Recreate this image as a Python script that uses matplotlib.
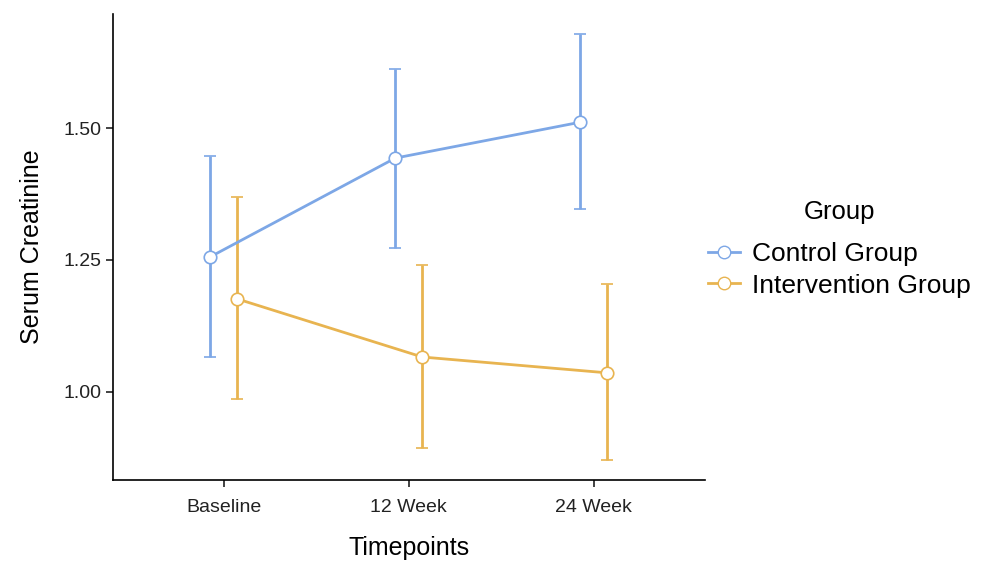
import numpy as np
import matplotlib.pyplot as plt
from matplotlib.lines import Line2D

plt.rcParams['font.family'] = ['Liberation Sans', 'DejaVu Sans']

timepoints = ['Baseline', '12 Week', '24 Week']
control_mean = [1.256, 1.443, 1.511]
control_lo = [1.066, 1.273, 1.347]
control_hi = [1.447, 1.612, 1.678]
interv_mean = [1.176, 1.066, 1.036]
interv_lo = [0.987, 0.894, 0.871]
interv_hi = [1.369, 1.241, 1.205]

blue = '#7DA7E6'
orange = '#E8B450'

fig = plt.figure(figsize=(9.86, 5.62), dpi=100)
ax = fig.add_axes([0.1146, 0.146, 0.600, 0.829])

x = np.arange(1, len(timepoints) + 1)
dodge = 0.073

for off, m, lo, hi, col in [(-dodge, control_mean, control_lo, control_hi, blue),
                            (dodge, interv_mean, interv_lo, interv_hi, orange)]:
    m = np.array(m)
    err = [m - np.array(lo), np.array(hi) - m]
    ax.errorbar(x + off, m, yerr=err, color=col, lw=2, capsize=4, capthick=2,
                marker='o', ms=9, mfc='white', mec=col, mew=1.2, zorder=3)

ax.set_xlim(0.4, 3.6)
ax.set_ylim(0.833, 1.716)
ax.set_xticks(x)
ax.set_xticklabels(timepoints)
ax.set_yticks([1.00, 1.25, 1.50])
ax.set_yticklabels(['1.00', '1.25', '1.50'])
ax.tick_params(labelsize=14, colors='#222222', length=5, width=1.2)
ax.tick_params(axis='x', pad=9)
for s in ['top', 'right']:
    ax.spines[s].set_visible(False)
for s in ['left', 'bottom']:
    ax.spines[s].set_linewidth(1.2)

ax.set_xlabel('Timepoints', fontsize=18, labelpad=14)
ax.set_ylabel('Serum Creatinine', fontsize=18, labelpad=14)

handles = [Line2D([], [], color=blue, lw=2, marker='o', ms=9, mfc='white', mec=blue),
           Line2D([], [], color=orange, lw=2, marker='o', ms=9, mfc='white', mec=orange)]
leg = fig.legend(handles, ['Control Group', 'Intervention Group'], title='Group',
                 loc='center left', bbox_to_anchor=(0.694, 0.557), frameon=False,
                 fontsize=19, title_fontsize=18.5, handlelength=1.2, handletextpad=0.45,
                 labelspacing=0.28)
leg._legend_box.sep = 13

fig.savefig('out.png', dpi=100)
